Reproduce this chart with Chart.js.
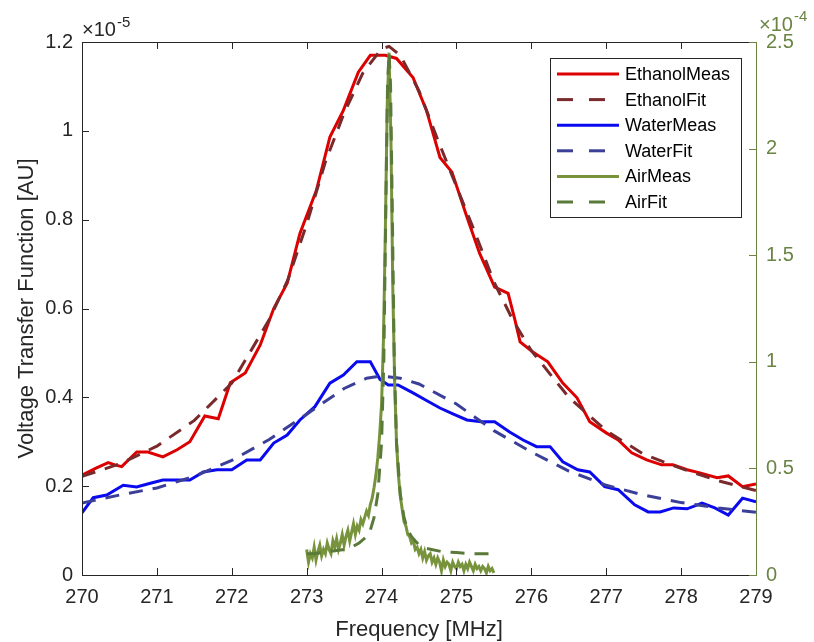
<!DOCTYPE html>
<html>
<head>
<meta charset="utf-8">
<script src="https://cdn.jsdelivr.net/npm/chart.js@4/dist/chart.umd.min.js"></script>
<style>
    html, body { margin: 0; padding: 0; background: #fff; }
    #wrap { width: 814px; height: 642px; }
</style>
</head>
<body>
<div id="wrap"><canvas id="chart" width="814" height="642"></canvas></div>
<script>
// Left axis values are in units of 1e-5, right axis values in units of 1e-4
const ethanolMeasFreq = [270.0, 270.18, 270.35, 270.44, 270.53, 270.73, 270.88, 271.08, 271.27, 271.44, 271.64, 271.82, 271.98, 272.18, 272.38, 272.56, 272.74, 272.91, 273.13, 273.31, 273.49, 273.69, 273.85, 274.05, 274.2, 274.42, 274.6, 274.78, 274.94, 275.14, 275.31, 275.51, 275.69, 275.78, 275.85, 276.02, 276.22, 276.42, 276.61, 276.78, 277.0, 277.16, 277.34, 277.54, 277.74, 277.89, 278.08, 278.25, 278.48, 278.63, 278.82, 279.0]
const ethanolMeas = [0.225, 0.24, 0.253, 0.248, 0.244, 0.277, 0.277, 0.266, 0.282, 0.30, 0.358, 0.352, 0.433, 0.455, 0.518, 0.60, 0.657, 0.769, 0.866, 0.986, 1.046, 1.132, 1.17, 1.17, 1.163, 1.12, 1.046, 0.94, 0.907, 0.806, 0.724, 0.648, 0.634, 0.575, 0.525, 0.502, 0.48, 0.432, 0.399, 0.345, 0.32, 0.304, 0.275, 0.259, 0.248, 0.248, 0.237, 0.23, 0.219, 0.223, 0.199, 0.205]

const ethanolFitFreq = [270.0, 270.5, 271.0, 271.5, 272.0, 272.5, 272.75, 273.0, 273.25, 273.5, 273.75, 274.0, 274.1, 274.25, 274.5, 274.75, 275.0, 275.25, 275.5, 275.75, 276.0, 276.5, 277.0, 277.5, 278.0, 278.5, 279.0]
const ethanolFit = [0.222, 0.25, 0.29, 0.348, 0.432, 0.575, 0.665, 0.79, 0.93, 1.04, 1.13, 1.185, 1.19, 1.17, 1.09, 0.98, 0.875, 0.77, 0.66, 0.575, 0.505, 0.40, 0.325, 0.272, 0.24, 0.212, 0.19]

const waterMeasFreq = [270.0, 270.15, 270.33, 270.55, 270.73, 270.9, 271.08, 271.27, 271.44, 271.62, 271.8, 272.0, 272.2, 272.38, 272.56, 272.74, 272.91, 273.11, 273.31, 273.49, 273.67, 273.85, 273.98, 274.09, 274.22, 274.42, 274.6, 274.78, 274.96, 275.14, 275.33, 275.51, 275.71, 275.89, 276.07, 276.25, 276.42, 276.62, 276.78, 276.98, 277.16, 277.38, 277.56, 277.72, 277.9, 278.08, 278.28, 278.45, 278.63, 278.82, 279.0]
const waterMeas = [0.14, 0.174, 0.18, 0.202, 0.198, 0.206, 0.214, 0.214, 0.214, 0.232, 0.237, 0.237, 0.259, 0.259, 0.297, 0.315, 0.349, 0.379, 0.432, 0.45, 0.48, 0.48, 0.44, 0.428, 0.428, 0.41, 0.393, 0.376, 0.362, 0.349, 0.345, 0.345, 0.322, 0.304, 0.289, 0.289, 0.255, 0.237, 0.232, 0.199, 0.192, 0.158, 0.142, 0.142, 0.151, 0.149, 0.162, 0.151, 0.135, 0.173, 0.165]

const waterFitFreq = [270.0, 270.5, 271.0, 271.5, 272.0, 272.5, 273.0, 273.5, 273.8, 274.0, 274.25, 274.5, 275.0, 275.5, 276.0, 276.5, 277.0, 277.5, 278.0, 278.5, 279.0]
const waterFit = [0.162, 0.18, 0.196, 0.222, 0.258, 0.305, 0.362, 0.42, 0.443, 0.448, 0.443, 0.43, 0.385, 0.325, 0.277, 0.234, 0.202, 0.18, 0.163, 0.151, 0.141]

const airMeasFreq = [273.000, 273.025, 273.050, 273.075, 273.100, 273.125, 273.150, 273.175, 273.200, 273.225,
    273.250, 273.275, 273.300, 273.325, 273.350, 273.375, 273.400, 273.425, 273.450, 273.475,
    273.500, 273.525, 273.550, 273.575, 273.600, 273.625, 273.650, 273.675, 273.700, 273.725,
    273.750, 273.775, 273.800, 273.825, 273.850, 273.875, 273.900, 273.925, 273.950, 273.975,
    274.000, 274.025, 274.050, 274.075, 274.100, 274.125, 274.150, 274.175, 274.200, 274.225,
    274.250, 274.275, 274.300, 274.325, 274.350, 274.375, 274.400, 274.425, 274.450, 274.475,
    274.500, 274.525, 274.550, 274.575, 274.600, 274.625, 274.650, 274.675, 274.700, 274.725,
    274.750, 274.775, 274.800, 274.825, 274.850, 274.875, 274.900, 274.925, 274.950, 274.975,
    275.000, 275.025, 275.050, 275.075, 275.100, 275.125, 275.150, 275.175, 275.200, 275.225,
    275.250, 275.275, 275.300, 275.325, 275.350, 275.375, 275.400, 275.425, 275.450, 275.475, 275.500]
const airMeas = [0.12, 0.06, 0.10, 0.08, 0.13, 0.07, 0.11, 0.14, 0.09, 0.12,
    0.10, 0.15, 0.12, 0.10, 0.16, 0.13, 0.17, 0.12, 0.15, 0.19,
    0.14, 0.18, 0.21, 0.16, 0.20, 0.24, 0.19, 0.23, 0.21, 0.26,
    0.24, 0.27, 0.30, 0.28, 0.33, 0.36, 0.41, 0.47, 0.55, 0.66,
    0.80, 1.10, 1.60, 2.20, 2.45, 2.05, 1.35, 0.90, 0.62, 0.47,
    0.37, 0.31, 0.25, 0.23, 0.19, 0.18, 0.15, 0.16, 0.12, 0.13,
    0.10, 0.12, 0.08, 0.11, 0.07, 0.09, 0.10, 0.06, 0.08, 0.05,
    0.08, 0.06, 0.02, 0.07, 0.04, 0.06, 0.05, 0.02, 0.06, 0.04,
    0.03, 0.06, 0.04, 0.05, 0.02, 0.05, 0.03, 0.06, 0.04, 0.02,
    0.05, 0.03, 0.04, 0.02, 0.04, 0.03, 0.01, 0.04, 0.02, 0.03, 0.01]

const airFitFreq = [273.0, 273.1, 273.2, 273.3, 273.4, 273.5, 273.6, 273.7, 273.8, 273.85, 273.9, 273.95, 274.0, 274.03, 274.06, 274.08, 274.1, 274.12, 274.14, 274.17, 274.2, 274.25, 274.3, 274.35, 274.4, 274.5, 274.6, 274.8, 275.0, 275.2, 275.45]
const airFit = [0.10, 0.10, 0.105, 0.11, 0.115, 0.12, 0.13, 0.15, 0.18, 0.21, 0.27, 0.38, 0.62, 1.0, 1.8, 2.3, 2.45, 2.3, 1.8, 1.0, 0.62, 0.38, 0.27, 0.21, 0.18, 0.14, 0.125, 0.11, 0.105, 0.10, 0.10]

const xTicks = [270, 271, 272, 273, 274, 275, 276, 277, 278, 279]
const leftTicks = [0, 0.2, 0.4, 0.6, 0.8, 1, 1.2]
const rightTicks = [0, 0.5, 1, 1.5, 2, 2.5]

const labels = ['EthanolMeas', 'EthanolFit', 'WaterMeas', 'WaterFit', 'AirMeas', 'AirFit']
const colors = ['#dc0000', '#7a2a2c', '#0a0aee', '#3c3f98', '#77933c', '#5a7a3a']

const axisColor = '#262626'
const rightColor = '#6a8444'
const fontFamily = '"Liberation Sans", Arial, sans-serif'

function toPoints(xs, ys) {
    return xs.map((x, i) => ({ x, y: ys[i] }))
}

const seriesList = [
    { data: toPoints(ethanolMeasFreq, ethanolMeas), axis: 'y', dash: [] },
    { data: toPoints(ethanolFitFreq, ethanolFit), axis: 'y', dash: [14, 10] },
    { data: toPoints(waterMeasFreq, waterMeas), axis: 'y', dash: [] },
    { data: toPoints(waterFitFreq, waterFit), axis: 'y', dash: [14, 10] },
    { data: toPoints(airMeasFreq, airMeas), axis: 'y2', dash: [] },
    { data: toPoints(airFitFreq, airFit), axis: 'y2', dash: [14, 10] }
]

const datasets = seriesList.map((s, i) => ({
    label: labels[i],
    data: s.data,
    yAxisID: s.axis,
    borderColor: colors[i],
    backgroundColor: colors[i],
    borderWidth: 3,
    borderDash: s.dash,
    pointRadius: 0,
    tension: 0,
    fill: false,
    order: labels.length - i
}))

// Box, inward ticks, exponent labels and the legend drawn over the plot
const framePlugin = {
    id: 'frame',
    afterDraw(chart) {
        const { ctx, chartArea: a, scales } = chart
        ctx.save()
        ctx.lineWidth = 1
        ctx.setLineDash([])

        ctx.strokeStyle = axisColor
        ctx.beginPath()
        ctx.moveTo(a.right, a.top + 0.5)
        ctx.lineTo(a.left + 0.5, a.top + 0.5)
        ctx.lineTo(a.left + 0.5, a.bottom + 0.5)
        ctx.lineTo(a.right, a.bottom + 0.5)
        ctx.stroke()

        const tl = 7
        xTicks.forEach(v => {
            const px = Math.round(scales.x.getPixelForValue(v)) + 0.5
            ctx.beginPath()
            ctx.moveTo(px, a.bottom)
            ctx.lineTo(px, a.bottom - tl)
            ctx.moveTo(px, a.top)
            ctx.lineTo(px, a.top + tl)
            ctx.stroke()
        })
        leftTicks.forEach(v => {
            const py = Math.round(scales.y.getPixelForValue(v)) + 0.5
            ctx.beginPath()
            ctx.moveTo(a.left, py)
            ctx.lineTo(a.left + tl, py)
            ctx.stroke()
        })

        ctx.strokeStyle = rightColor
        ctx.beginPath()
        ctx.moveTo(a.right + 0.5, a.top)
        ctx.lineTo(a.right + 0.5, a.bottom + 1)
        ctx.stroke()
        rightTicks.forEach(v => {
            const py = Math.round(scales.y2.getPixelForValue(v)) + 0.5
            ctx.beginPath()
            ctx.moveTo(a.right, py)
            ctx.lineTo(a.right - tl, py)
            ctx.stroke()
        })

        // exponent labels
        ctx.textBaseline = 'alphabetic'
        ctx.textAlign = 'left'
        ctx.fillStyle = axisColor
        ctx.font = '20px ' + fontFamily
        ctx.fillText('\u00d710', a.left, 36)
        let w = ctx.measureText('\u00d710').width
        ctx.font = '15px ' + fontFamily
        ctx.fillText('-5', a.left + w + 1, 27)

        ctx.fillStyle = rightColor
        ctx.font = '20px ' + fontFamily
        ctx.fillText('\u00d710', a.right + 3, 31)
        w = ctx.measureText('\u00d710').width
        ctx.font = '15px ' + fontFamily
        ctx.fillText('-4', a.right + 3 + w + 1, 21)

        // legend
        const lx = 550, ly = 58, lw = 191, lh = 159
        ctx.fillStyle = '#ffffff'
        ctx.fillRect(lx, ly, lw, lh)
        ctx.strokeStyle = axisColor
        ctx.lineWidth = 1
        ctx.strokeRect(lx + 0.5, ly + 0.5, lw, lh)
        ctx.font = '18px ' + fontFamily
        ctx.textBaseline = 'middle'
        chart.data.datasets.forEach((ds, i) => {
            const y = ly + 16 + i * 25.6
            ctx.strokeStyle = ds.borderColor
            ctx.lineWidth = 3
            ctx.setLineDash(ds.borderDash.length ? [16, 16] : [])
            ctx.beginPath()
            ctx.moveTo(lx + 7, y)
            ctx.lineTo(lx + 69, y)
            ctx.stroke()
            ctx.fillStyle = '#000000'
            ctx.fillText(ds.label, lx + 75, y + 1)
        })
        ctx.restore()
    }
}

new Chart(document.getElementById('chart'), {
    type: 'line',
    data: { datasets },
    options: {
        responsive: false,
        animation: false,
        layout: { padding: { top: 42, left: 0, right: 0, bottom: 0 } },
        plugins: {
            legend: { display: false },
            tooltip: { enabled: false }
        },
        scales: {
            x: {
                type: 'linear',
                min: 270,
                max: 279,
                afterFit: s => { s.height = 67 },
                afterBuildTicks: s => { s.ticks = xTicks.map(v => ({ value: v })) },
                grid: { display: false, drawTicks: false },
                border: { display: false },
                ticks: {
                    color: axisColor,
                    padding: 10,
                    font: { family: fontFamily, size: 20 },
                    maxRotation: 0,
                    autoSkip: false
                },
                title: {
                    display: true,
                    text: 'Frequency [MHz]',
                    color: axisColor,
                    font: { family: fontFamily, size: 22, lineHeight: 1 },
                    padding: { top: 0, bottom: 1 }
                }
            },
            y: {
                position: 'left',
                min: 0,
                max: 1.2,
                afterFit: s => { s.width = 82 },
                afterBuildTicks: s => { s.ticks = leftTicks.map(v => ({ value: v })) },
                grid: { display: false, drawTicks: false },
                border: { display: false },
                ticks: {
                    color: axisColor,
                    padding: 9,
                    font: { family: fontFamily, size: 20 },
                    callback: v => String(Math.round(v * 10) / 10)
                },
                title: {
                    display: true,
                    text: 'Voltage Transfer Function [AU]',
                    color: axisColor,
                    font: { family: fontFamily, size: 22, lineHeight: 1 },
                    padding: { top: 16, bottom: 0 }
                }
            },
            y2: {
                position: 'right',
                min: 0,
                max: 2.5,
                afterFit: s => { s.width = 58 },
                afterBuildTicks: s => { s.ticks = rightTicks.map(v => ({ value: v })) },
                grid: { display: false, drawTicks: false },
                border: { display: false },
                ticks: {
                    color: rightColor,
                    padding: 10,
                    font: { family: fontFamily, size: 20 },
                    callback: v => String(Math.round(v * 10) / 10)
                }
            }
        }
    },
    plugins: [framePlugin]
})
</script>
</body>
</html>
